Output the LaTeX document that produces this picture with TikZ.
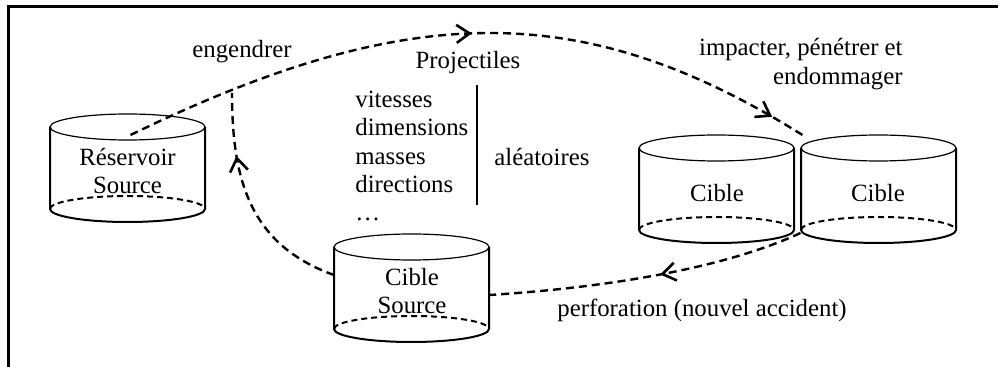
\documentclass[tikz,border=0pt]{standalone}
\usepackage{fontspec}
\setmainfont{Liberation Serif}
\usetikzlibrary{calc,decorations.markings,arrows.meta}

% cylinder, top ellipse centred at the pic origin
\tikzset{
  fut/.pic={
    \coordinate (-c) at (0,0);
    \draw [line width=0.6pt] (0,0) ellipse [x radius=77.5, y radius=13];
    \draw [line width=1pt] (-77.5,0) -- (-77.5,82) arc [start angle=180, end angle=0, x radius=77.5, y radius=13] -- (77.5,0);
    \draw [line width=1pt, dash pattern=on 3pt off 2pt] (-77.5,82) arc [start angle=180, end angle=360, x radius=77.5, y radius=13];
  }
}

\begin{document}
\begin{tikzpicture}[x=0.5pt, y=-0.5pt,
    texte/.style={font=\fontsize{12.4}{14.2}\selectfont, inner sep=0pt},
    lien/.style={line width=1.2pt, dash pattern=on 4pt off 2.5pt},
    pointe/.style={postaction={decorate}, decoration={markings,
        mark=at position #1 with {\arrow{Straight Barb[length=6.5pt,width=9pt,line width=1.3pt]}}}},
    pointes/.style 2 args={postaction={decorate}, decoration={markings,
        mark=at position #1 with {\arrow{Straight Barb[length=6.5pt,width=9pt,line width=1.3pt]}},
        mark=at position #2 with {\arrow{Straight Barb[length=6.5pt,width=9pt,line width=1.3pt]}}}}]
    \useasboundingbox (0,0) rectangle (999,367);

    % Frame
    \draw [line width=1.5pt] (8,367) -- (8,7) -- (998,7);

    % Cylinders
    \pic (res) at (127.5,127) {fut};
    \pic (src) at (411.5,247) {fut};
    \pic (cib1) at (716.5,148) {fut};
    \pic (cib2) at (878.5,148) {fut};

    \node [texte, align=center] (reservoir) at (127.5,171) {Réservoir\\Source};
    \node [texte, align=center] (ciblesrc) at (412,291) {Cible\\Source};
    \node [texte] (cible1) at (717,193) {Cible};
    \node [texte] (cible2) at (878,193) {Cible};

    % Projectiles
    \node [texte] (proj) at (468,63) {Projectiles};
    \node [texte, align=left, anchor=west] (liste) at (355,156) {vitesses\\dimensions\\masses\\directions\\…};
    \draw [line width=0.6pt] (477,85) -- (477,205);
    \node [texte, anchor=west] (alea) at (494,157) {aléatoires};

    % Labels
    \node [texte] (engendrer) at (242,52) {engendrer};
    \node [texte, align=right, anchor=east] (impacter) at (903,64) {impacter, pénétrer et\\endommager};
    \node [texte] (perfo) at (702,310) {perforation (nouvel accident)};

    % Links
    \coordinate (retour) at (232,93);
    \draw [lien, pointes={0.505}{0.95}] ($(res-c)+(3,8)$) .. controls +(280,-136) and +(-218,-136) .. ($(cib2-c)+(-76,-13)$);
    \draw [lien, pointe=0.46] ($(cib2-c)+(-78,85)$) .. controls +(-80,37) and +(110,-7) .. ($(src-c)+(78,48)$);
    \draw [lien, pointe=0.72] ($(src-c)+(-77.5,28)$) .. controls +(-84,-30) and +(0,87) .. (retour);
\end{tikzpicture}
\end{document}
